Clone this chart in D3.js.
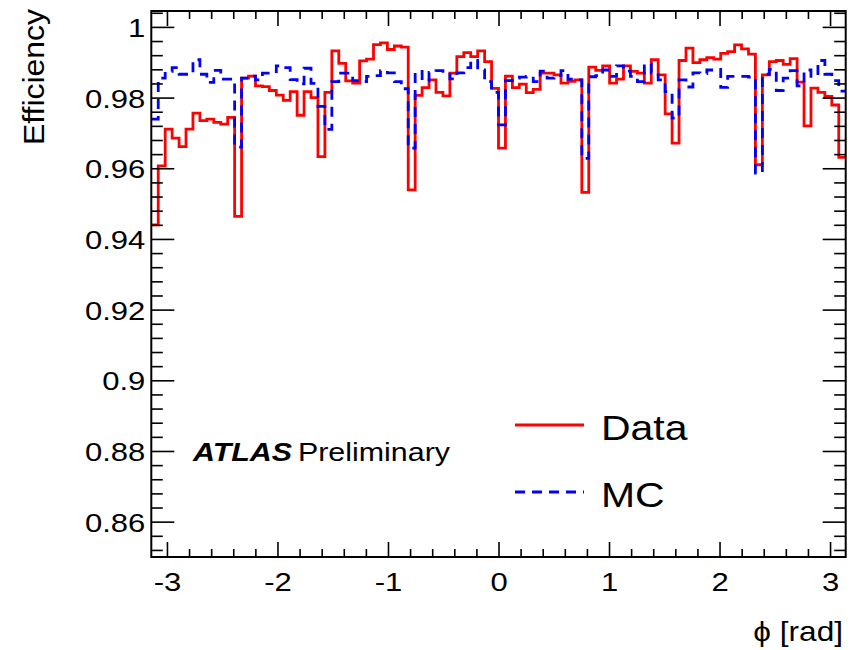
<!DOCTYPE html>
<html>
<head>
<meta charset="utf-8">
<script src="https://cdn.jsdelivr.net/npm/d3@7"></script>
<style>
  html, body { margin: 0; padding: 0; background: #fff; }
  svg { display: block; }
  text { font-family: "Liberation Sans", Arial, Helvetica, sans-serif; fill: #000; }
</style>
</head>
<body>
<svg id="chart" width="859" height="650"></svg>
<script>
// ---------------- data ----------------
const nBins = 100;
const phiRange = [-Math.PI, Math.PI];

const dataEff = [
  0.9440, 0.9607, 0.9711, 0.9685, 0.9661, 0.9711, 0.9756, 0.9735, 0.9739, 0.9730,
  0.9725, 0.9744, 0.9464, 0.9855, 0.9861, 0.9833, 0.9831, 0.9820, 0.9807, 0.9792,
  0.9817, 0.9750, 0.9817, 0.9800, 0.9633, 0.9815, 0.9932, 0.9897, 0.9847, 0.9841,
  0.9904, 0.9909, 0.9950, 0.9955, 0.9936, 0.9946, 0.9943, 0.9539, 0.9806, 0.9828,
  0.9850, 0.9815, 0.9805, 0.9869, 0.9916, 0.9927, 0.9916, 0.9932, 0.9902, 0.9826,
  0.9657, 0.9861, 0.9828, 0.9838, 0.9814, 0.9823, 0.9869, 0.9869, 0.9864, 0.9841,
  0.9846, 0.9850, 0.9532, 0.9886, 0.9877, 0.9890, 0.9841, 0.9852, 0.9890, 0.9874,
  0.9869, 0.9841, 0.9907, 0.9864, 0.9754, 0.9671, 0.9905, 0.9940, 0.9899, 0.9907,
  0.9913, 0.9909, 0.9925, 0.9930, 0.9949, 0.9938, 0.9923, 0.9610, 0.9864, 0.9902,
  0.9905, 0.9894, 0.9910, 0.9844, 0.9720, 0.9827, 0.9815, 0.9803, 0.9779, 0.9631
];

const mcEff = [
  0.9739, 0.9855, 0.9874, 0.9885, 0.9866, 0.9866, 0.9907, 0.9866, 0.9843, 0.9877,
  0.9852, 0.9852, 0.9660, 0.9855, 0.9861, 0.9850, 0.9869, 0.9869, 0.9890, 0.9885,
  0.9851, 0.9839, 0.9883, 0.9840, 0.9775, 0.9710, 0.9845, 0.9869, 0.9869, 0.9848,
  0.9845, 0.9860, 0.9862, 0.9876, 0.9870, 0.9845, 0.9825, 0.9657, 0.9874, 0.9847,
  0.9871, 0.9876, 0.9874, 0.9853, 0.9870, 0.9885, 0.9905, 0.9878, 0.9845, 0.9815,
  0.9723, 0.9848, 0.9855, 0.9858, 0.9860, 0.9845, 0.9875, 0.9855, 0.9862, 0.9876,
  0.9852, 0.9850, 0.9628, 0.9859, 0.9862, 0.9878, 0.9860, 0.9890, 0.9875, 0.9860,
  0.9845, 0.9895, 0.9870, 0.9850, 0.9817, 0.9742, 0.9850, 0.9830, 0.9870, 0.9868,
  0.9878, 0.9880, 0.9829, 0.9860, 0.9860, 0.9860, 0.9858, 0.9586, 0.9866, 0.9880,
  0.9820, 0.9855, 0.9876, 0.9833, 0.9878, 0.9860, 0.9905, 0.9866, 0.9848, 0.9818
];

const xTickValues = [-3, -2, -1, 0, 1, 2, 3];
const xTickLabels = ["-3", "-2", "-1", "0", "1", "2", "3"];
const yTickValues = [0.86, 0.88, 0.9, 0.92, 0.94, 0.96, 0.98, 1.0];
const yTickLabels = ["0.86", "0.88", "0.9", "0.92", "0.94", "0.96", "0.98", "1"];
const yDomain = [0.85, 1.0045];

const seriesNames = ["Data", "MC"];
const xTitle = "\u03D5 [rad]";
const yTitle = "Efficiency";

// ---------------- layout ----------------
const L = 151.3, R = 845.7, T = 11, B = 557;
const SX = 1.17; // horizontal glyph stretch of the reference

const svg = d3.select("#chart");
const x = d3.scaleLinear().domain(phiRange).range([L, R]);
const y = d3.scaleLinear().domain(yDomain).range([B, T]);

const binW = (phiRange[1] - phiRange[0]) / nBins;
function histPoints(vals) {
  const pts = vals.map((v, i) => ({ e: phiRange[0] + i * binW, v }));
  pts.push({ e: phiRange[1], v: vals[vals.length - 1] });
  return pts;
}
const stepLine = d3.line().x(d => x(d.e)).y(d => y(d.v)).curve(d3.curveStepAfter);

// clip
svg.append("clipPath").attr("id", "clip").append("rect")
  .attr("x", L).attr("y", T).attr("width", R - L).attr("height", B - T);

const plot = svg.append("g").attr("clip-path", "url(#clip)");
plot.append("path").datum(histPoints(dataEff))
  .attr("d", stepLine).attr("fill", "none")
  .attr("stroke", "#ff0000").attr("stroke-width", 2.8);
plot.append("path").datum(histPoints(mcEff))
  .attr("d", stepLine).attr("fill", "none")
  .attr("stroke", "#0000ff").attr("stroke-width", 2.8)
  .attr("stroke-dasharray", "10,7");

// ---------------- axes ----------------
const xMinor = d3.range(-30, 31, 2).map(v => v / 10).filter(v => !xTickValues.includes(v));
const yMinor = d3.range(852, 1005, 4).map(v => v / 1000).filter(v => v <= yDomain[1] && !yTickValues.some(t => Math.abs(t - v) < 1e-9));

function styleAxis(g) {
  g.select(".domain").remove();
  g.selectAll("line").attr("stroke", "#000").attr("stroke-width", 1.6);
}

// bottom
const gxB = svg.append("g").attr("transform", `translate(0,${B})`);
gxB.call(d3.axisBottom(x).tickValues(xTickValues).tickSize(-15)
  .tickFormat((d, i) => xTickLabels[i])).call(styleAxis);
gxB.selectAll("text")
  .attr("y", null).attr("dy", null)
  .attr("transform", `translate(0,34) scale(${SX},1)`)
  .attr("text-anchor", "middle").style("font-size", "26.5px");
svg.append("g").attr("transform", `translate(0,${B})`)
  .call(d3.axisBottom(x).tickValues(xMinor).tickSize(-8).tickFormat(""))
  .call(styleAxis);
// top
svg.append("g").attr("transform", `translate(0,${T})`)
  .call(d3.axisTop(x).tickValues(xTickValues).tickSize(-15).tickFormat(""))
  .call(styleAxis);
svg.append("g").attr("transform", `translate(0,${T})`)
  .call(d3.axisTop(x).tickValues(xMinor).tickSize(-8).tickFormat(""))
  .call(styleAxis);

// left
const gyL = svg.append("g").attr("transform", `translate(${L},0)`);
gyL.call(d3.axisLeft(y).tickValues(yTickValues).tickSize(-23)
  .tickFormat((d, i) => yTickLabels[i])).call(styleAxis);
gyL.selectAll("text")
  .attr("x", null).attr("dy", null)
  .attr("transform", `translate(-6,9.5) scale(${SX},1)`)
  .attr("text-anchor", "end").style("font-size", "26.5px");
svg.append("g").attr("transform", `translate(${L},0)`)
  .call(d3.axisLeft(y).tickValues(yMinor).tickSize(-11.5).tickFormat(""))
  .call(styleAxis);
// right
svg.append("g").attr("transform", `translate(${R},0)`)
  .call(d3.axisRight(y).tickValues(yTickValues).tickSize(-23).tickFormat(""))
  .call(styleAxis);
svg.append("g").attr("transform", `translate(${R},0)`)
  .call(d3.axisRight(y).tickValues(yMinor).tickSize(-11.5).tickFormat(""))
  .call(styleAxis);

// frame
svg.append("rect").attr("x", L).attr("y", T).attr("width", R - L).attr("height", B - T)
  .attr("fill", "none").attr("stroke", "#000").attr("stroke-width", 2);

// titles
svg.append("text")
  .attr("transform", `translate(843,641) scale(${SX},1)`)
  .attr("text-anchor", "end").style("font-size", "27px").text(xTitle);
svg.append("text")
  .attr("transform", `translate(43.5,9) scale(${SX},1) rotate(-90)`)
  .attr("text-anchor", "end").style("font-size", "26px")
  .attr("textLength", 136).attr("lengthAdjust", "spacingAndGlyphs")
  .text(yTitle);

// ATLAS label
const atl = svg.append("text").attr("transform", `translate(193,461) scale(${SX},1)`)
  .style("font-size", "26px");
atl.append("tspan").style("font-weight", "bold").style("font-style", "italic").text("ATLAS");
atl.append("tspan").attr("dx", 5).text("Preliminary");

// legend
const legendY = [425, 492];
const legendStyles = [
  { stroke: "#ff0000", dash: null },
  { stroke: "#0000ff", dash: "10,7" }
];
seriesNames.forEach((name, i) => {
  svg.append("line")
    .attr("x1", 515).attr("x2", 584).attr("y1", legendY[i]).attr("y2", legendY[i])
    .attr("stroke", legendStyles[i].stroke).attr("stroke-width", 2.8)
    .attr("stroke-dasharray", legendStyles[i].dash);
  svg.append("text")
    .attr("transform", `translate(601,${legendY[i] + 15}) scale(${SX},1)`)
    .style("font-size", "35px").text(name);
});
</script>
</body>
</html>
